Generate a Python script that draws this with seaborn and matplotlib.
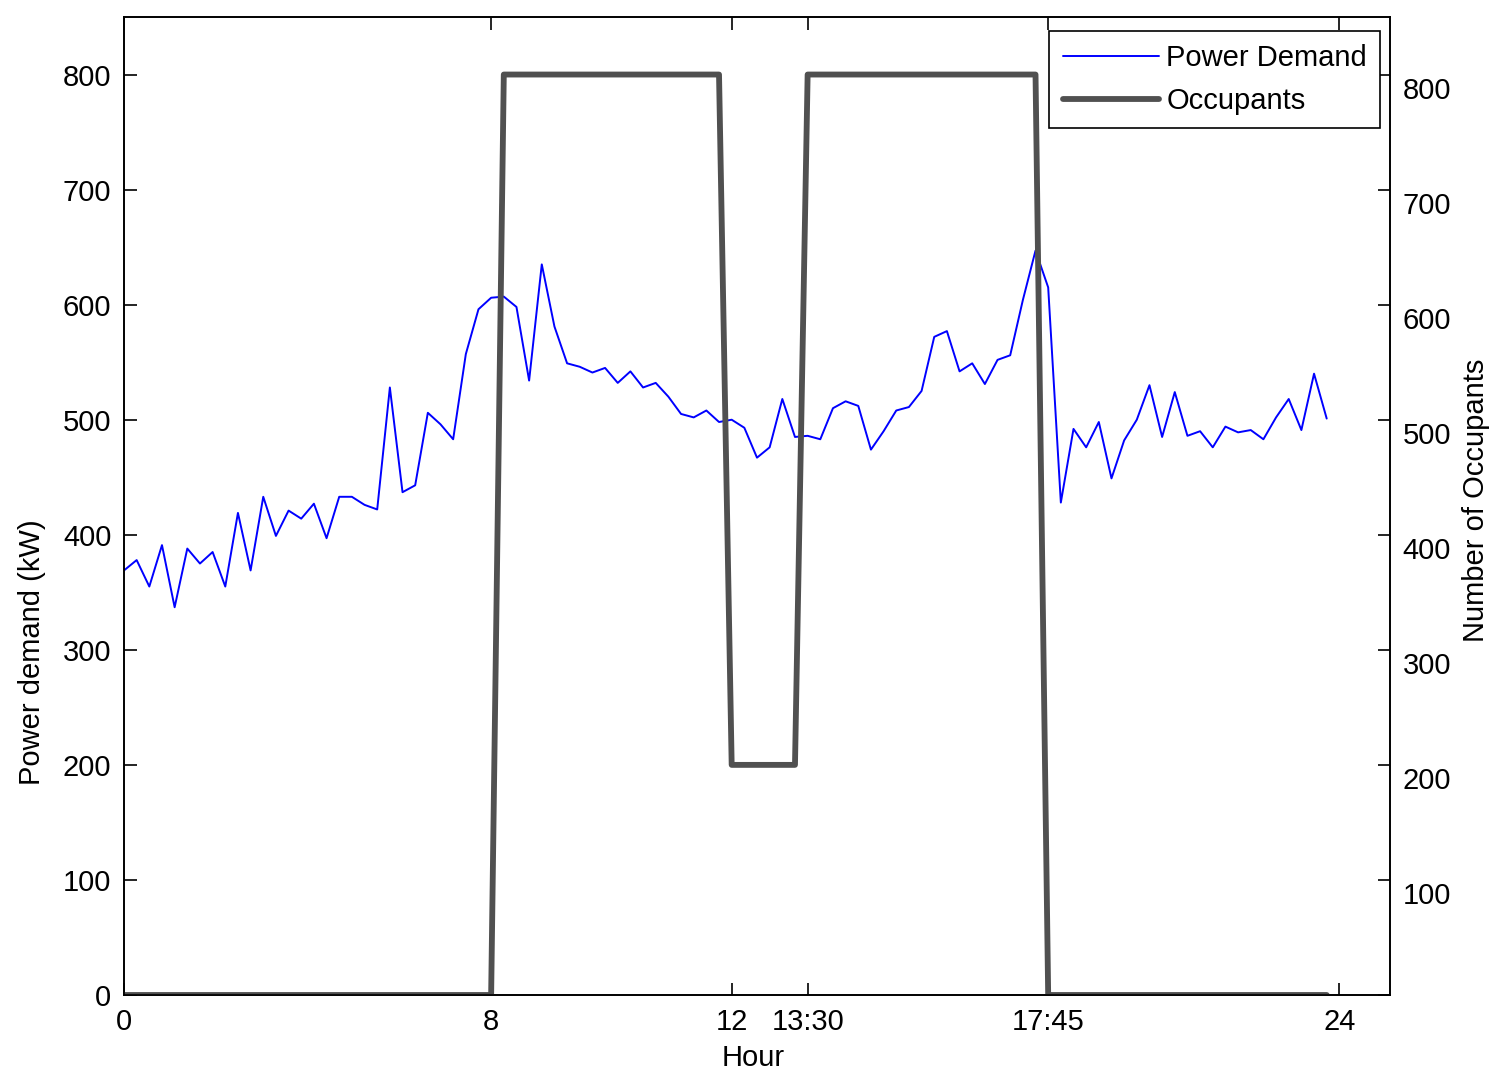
import numpy as np
import pandas as pd
import matplotlib
matplotlib.use("Agg")
import matplotlib.pyplot as plt
import matplotlib.transforms as mtransforms
import seaborn as sns

# ---------------- data ----------------
# power demand sampled every 15 minutes (96 samples, 0:00 .. 23:45)
hours = np.arange(96) * 0.25
power_kw = [369, 378, 355, 391, 337, 388, 375, 385, 355, 419, 369, 433,
            399, 421, 414, 427, 397, 433, 433, 426, 422, 528, 437, 443,
            506, 496, 483, 557, 596, 606, 607, 598, 534, 635, 581, 549,
            546, 541, 545, 532, 542, 528, 532, 520, 505, 502, 508, 498,
            500, 493, 467, 476, 518, 485, 486, 483, 510, 516, 512, 474,
            490, 508, 511, 525, 572, 577, 542, 549, 531, 552, 556, 604,
            647, 615, 428, 492, 476, 498, 449, 482, 500, 530, 485, 524,
            486, 490, 476, 494, 489, 491, 483, 502, 518, 491, 540, 501]

# occupancy schedule (breakpoints of the piecewise-linear profile)
occ_hours = [0, 7.25, 7.5, 11.75, 12.0, 13.25, 13.5, 18.0, 18.25, 23.75]
occ_values = [0, 0, 800, 800, 200, 200, 800, 800, 0, 0]

xtick_pos = [0, 7.25, 12.0, 13.5, 18.25, 24]
xtick_labels = ["0", "8", "12", "13:30", "17:45", "24"]
left_yticks = [0, 100, 200, 300, 400, 500, 600, 700, 800]
right_yticks = [0, 100, 200, 300, 400, 500, 600, 700, 800]
right_ylabels = ["", "100", "200", "300", "400", "500", "600", "700", "800"]

df_power = pd.DataFrame({"Hour": hours, "Power": power_kw})
df_occ = pd.DataFrame({"Hour": occ_hours, "Occupants": occ_values})

# ---------------- style ----------------
sns.set_style("white")
plt.rcParams["font.family"] = ["Liberation Sans", "DejaVu Sans"]
plt.rcParams["text.color"] = "black"
plt.rcParams["axes.labelcolor"] = "black"
plt.rcParams["xtick.color"] = "black"
plt.rcParams["ytick.color"] = "black"
FS = 21

fig = plt.figure(figsize=(14.91, 10.76), dpi=100)
ax = fig.add_axes([124 / 1491, 1 - 995 / 1076, (1390 - 124) / 1491, (995 - 17) / 1076])

sns.lineplot(data=df_power, x="Hour", y="Power", ax=ax, color=(0, 0, 1),
             linewidth=1.4, estimator=None, sort=False, label="Power Demand",
             legend=False)

ax2 = ax.twinx()
sns.lineplot(data=df_occ, x="Hour", y="Occupants", ax=ax2, color="#505050",
             linewidth=4.2, estimator=None, sort=False, label="Occupants",
             legend=False)

for a in (ax, ax2):
    a.set_xlim(0, 25)
    a.set_ylim(0, 850)
    for s in a.spines.values():
        s.set_color("black")
        s.set_linewidth(1.2)
    a.grid(False)

ax.set_xticks(xtick_pos)
ax.set_xticklabels(xtick_labels, fontsize=FS)
ax.set_yticks(left_yticks)
ax.set_yticklabels([str(v) for v in left_yticks], fontsize=FS)
ax.tick_params(axis="x", direction="in", length=9, width=1.2, top=True,
               bottom=True, pad=9, colors="black")
ax.tick_params(axis="y", direction="in", length=9, width=1.2, left=True,
               right=False, pad=9, colors="black")

ax2.set_yticks(right_yticks)
ax2.set_yticklabels(right_ylabels, fontsize=FS)
ax2.tick_params(axis="y", direction="in", length=9, width=1.2, left=False,
                right=True, pad=9, colors="black")
offset = mtransforms.ScaledTranslation(0, -13 / 100, fig.dpi_scale_trans)
for lab in ax2.get_yticklabels():
    lab.set_transform(lab.get_transform() + offset)

ax.set_xlabel("Hour", fontsize=FS, color="black")
ax.xaxis.set_label_coords(0.497, -0.050)
ax.set_ylabel("Power demand (kW)", fontsize=FS, color="black")
ax.yaxis.set_label_coords(-0.062, 0.351)
ax2.set_ylabel("Number of Occupants", fontsize=FS, color="black")
ax2.yaxis.set_label_coords(1.057, 0.506)

h1, l1 = ax.get_legend_handles_labels()
h2, l2 = ax2.get_legend_handles_labels()
leg = ax2.legend(h1 + h2, l1 + l2, loc="upper right", fontsize=FS,
                 frameon=True, fancybox=False, framealpha=1,
                 edgecolor="black", handlelength=3.3, handletextpad=0.25,
                 labelspacing=0.5, borderpad=0.45, borderaxespad=0,
                 bbox_to_anchor=((1380 - 124) / 1266, (995 - 31) / 978),
                 bbox_transform=ax2.transAxes)
leg.get_frame().set_linewidth(1.2)
for t in leg.get_texts():
    t.set_color("black")

fig.savefig("out.png", dpi=100)
